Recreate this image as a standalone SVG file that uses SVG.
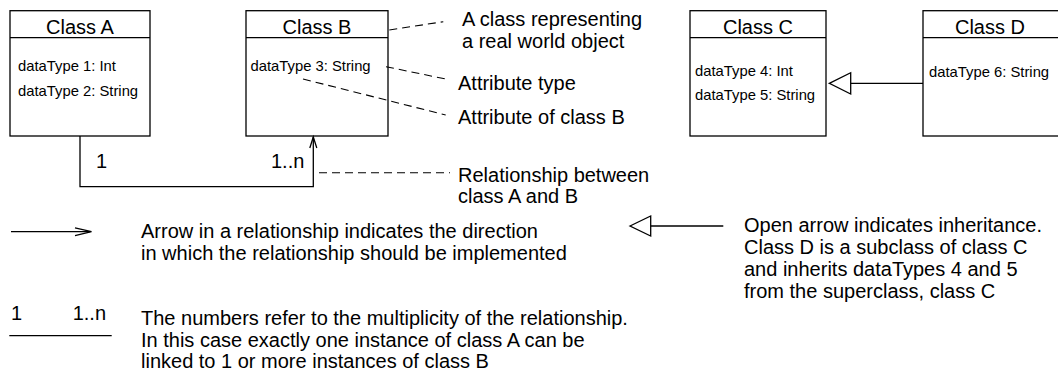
<svg xmlns="http://www.w3.org/2000/svg" width="1058" height="374" viewBox="0 0 1058 374">
<style>
.box{fill:#fff;stroke:#000;stroke-width:1.3}
.ln{fill:none;stroke:#000;stroke-width:1.3}
.dash{fill:none;stroke:#000;stroke-width:1.1;stroke-dasharray:8 5}
text{font-family:"Liberation Sans",Arial,Helvetica,sans-serif;fill:#000}
.t{font-size:20px}
.title{font-size:20px;text-anchor:middle}
.attr{font-size:14.8px}
</style>
<rect width="1058" height="374" fill="#fff"/>
<g id="classA">
<rect class="box" x="10" y="10.7" width="140" height="125.3"/>
<line class="ln" x1="10" y1="37.7" x2="150" y2="37.7"/>
<text class="title" x="80" y="33.5">Class A</text>
<text class="attr" x="18" y="71">dataType 1: Int</text>
<text class="attr" x="18" y="96">dataType 2: String</text>
</g>
<g id="classB">
<rect class="box" x="246" y="10.7" width="142" height="125.3"/>
<line class="ln" x1="246" y1="37.7" x2="388" y2="37.7"/>
<text class="title" x="317" y="33.5">Class B</text>
<text class="attr" x="250.5" y="71">dataType 3: String</text>
</g>
<g id="classC">
<rect class="box" x="690" y="10.7" width="136" height="125.3"/>
<line class="ln" x1="690" y1="37.7" x2="826" y2="37.7"/>
<text class="title" x="758" y="33.5">Class C</text>
<text class="attr" x="695" y="75.5">dataType 4: Int</text>
<text class="attr" x="695" y="100">dataType 5: String</text>
</g>
<g id="classD">
<rect class="box" x="923" y="10.7" width="140" height="125.3"/>
<line class="ln" x1="923" y1="37.7" x2="1063" y2="37.7"/>
<text class="title" x="990" y="33.5">Class D</text>
<text class="attr" x="929" y="77">dataType 6: String</text>
</g>
<g id="notes">
<text class="t" x="462" y="26">A class representing</text>
<text class="t" x="462" y="48">a real world object</text>
<text class="t" x="458" y="90">Attribute type</text>
<text class="t" x="458" y="124">Attribute of class B</text>
<text class="t" x="458" y="181.5">Relationship between</text>
<text class="t" x="458" y="203">class A and B</text>
<text class="t" x="141" y="238">Arrow in a relationship indicates the direction</text>
<text class="t" x="141" y="260">in which the relationship should be implemented</text>
<text class="t" x="141" y="325">The numbers refer to the multiplicity of the relationship.</text>
<text class="t" x="141" y="346.5">In this case exactly one instance of class A can be</text>
<text class="t" x="141" y="368">linked to 1 or more instances of class B</text>
<text class="t" x="744" y="232">Open arrow indicates inheritance.</text>
<text class="t" x="744" y="254">Class D is a subclass of class C</text>
<text class="t" x="744" y="276">and inherits dataTypes 4 and 5</text>
<text class="t" x="744" y="298">from the superclass, class C</text>
</g>
<g id="connectors">
<polyline class="ln" points="80,136 80,186.7 313.3,186.7 313.3,137"/>
<path class="ln" d="M309.8,148 L313.3,137 L316.8,148"/>
<text class="t" x="96" y="168">1</text>
<text class="t" x="271" y="168">1..n</text>
<line class="ln" x1="850.7" y1="83.3" x2="923" y2="83.3"/>
<polygon class="ln" points="829.3,83.3 850.7,72.7 850.7,94"/>
<line class="dash" x1="389.3" y1="30" x2="443.3" y2="21.7"/>
<line class="dash" x1="386" y1="66.7" x2="445.7" y2="79"/>
<line class="dash" x1="303" y1="79" x2="445.7" y2="115"/>
<line class="dash" x1="319" y1="172.7" x2="450" y2="172.7"/>
<line class="ln" x1="11" y1="231.7" x2="90" y2="231.7"/>
<path class="ln" d="M75,227.8 L91.5,231.7 L75,235.6"/>
<text class="t" x="11" y="319.5">1</text>
<text class="t" x="72.7" y="319.5">1..n</text>
<line class="ln" x1="9.3" y1="335.7" x2="111.7" y2="335.7"/>
<line class="ln" x1="650.7" y1="226" x2="723.3" y2="226"/>
<polygon class="ln" points="630,226 650.7,216 650.7,236"/>
</g>
</svg>
